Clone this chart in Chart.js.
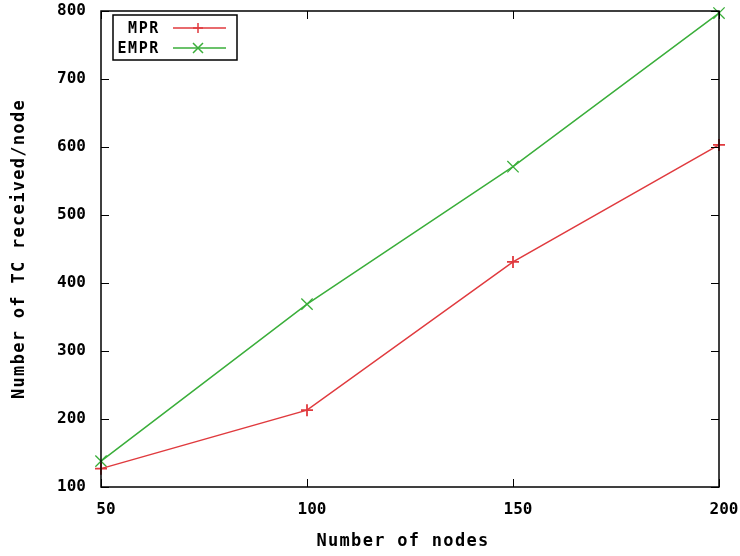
<!DOCTYPE html>
<html>
<head>
<meta charset="utf-8">
<script src="https://cdn.jsdelivr.net/npm/chart.js@4/dist/chart.umd.min.js"></script>
<style>
  html, body { margin: 0; padding: 0; background: #fff; }
  #wrap { width: 740px; height: 556px; }
</style>
</head>
<body>
<div id="wrap"><canvas id="tc_chart" width="740" height="556"></canvas></div>
<script>
// values
const nodes = [50, 100, 150, 200];
const mpr = [127, 213, 431, 603];
const empr = [138, 369, 571, 797];
const yTicks = [100, 200, 300, 400, 500, 600, 700, 800];
const xTitle = 'Number of nodes';
const yTitle = 'Number of TC received/node';

const FONT = '"DejaVu Sans Mono", monospace';

// gnuplot look: frame, inward ticks on all 4 sides, wide axis titles, boxed key top-left
var framePlugin = {
    id: 'frame',
    afterDatasetsDraw: function (chart) {
        var ctx = chart.ctx;
        var a = chart.chartArea;
        var xs = chart.scales.x, ys = chart.scales.y;
        ctx.save();
        ctx.strokeStyle = '#000';
        ctx.lineWidth = 1.5;
        ctx.strokeRect(a.left, a.top, a.right - a.left, a.bottom - a.top);
        ctx.lineWidth = 1;
        ctx.beginPath();
        nodes.forEach(function (v) {
            var px = Math.round(xs.getPixelForValue(v)) + 0.5;
            ctx.moveTo(px, a.bottom); ctx.lineTo(px, a.bottom - 8);
            ctx.moveTo(px, a.top); ctx.lineTo(px, a.top + 8);
        });
        yTicks.forEach(function (v) {
            var py = Math.round(ys.getPixelForValue(v)) + 0.5;
            ctx.moveTo(a.left, py); ctx.lineTo(a.left + 8, py);
            ctx.moveTo(a.right, py); ctx.lineTo(a.right - 8, py);
        });
        ctx.stroke();

        // axis titles
        ctx.fillStyle = '#000';
        ctx.font = 'bold 17px ' + FONT;
        ctx.letterSpacing = '1.3px';
        ctx.textAlign = 'center';
        ctx.textBaseline = 'middle';
        ctx.fillText(xTitle, 403, 542);
        ctx.save();
        ctx.translate(20, (a.top + a.bottom) / 2);
        ctx.rotate(-Math.PI / 2);
        ctx.fillText(yTitle, 0, 0);
        ctx.restore();

        // key box
        var bx = 113, by = a.top + 4, bw = 124, bh = 45;
        ctx.fillStyle = '#fff';
        ctx.fillRect(bx, by, bw, bh);
        ctx.strokeStyle = '#000';
        ctx.lineWidth = 1.5;
        ctx.strokeRect(bx, by, bw, bh);
        ctx.font = 'bold 15px ' + FONT;
        ctx.letterSpacing = '1.6px';
        ctx.textAlign = 'right';
        chart.data.datasets.forEach(function (ds, i) {
            var ly = by + 13 + i * 20;
            ctx.fillStyle = '#000';
            ctx.fillText(ds.label, bx + 47, ly + 1);
            ctx.strokeStyle = ds.borderColor;
            ctx.lineWidth = 1.5;
            ctx.beginPath();
            ctx.moveTo(bx + 60, ly); ctx.lineTo(bx + 113, ly);
            ctx.stroke();
            var mx = bx + 85, r = 5;
            ctx.beginPath();
            if (ds.pointStyle === 'cross') {
                ctx.moveTo(mx - r, ly); ctx.lineTo(mx + r, ly);
                ctx.moveTo(mx, ly - r); ctx.lineTo(mx, ly + r);
            } else {
                ctx.moveTo(mx - r, ly - r); ctx.lineTo(mx + r, ly + r);
                ctx.moveTo(mx - r, ly + r); ctx.lineTo(mx + r, ly - r);
            }
            ctx.stroke();
        });
        ctx.restore();
    }
};

function noPad(s) {
    s.paddingLeft = 0; s.paddingRight = 0; s.paddingTop = 0; s.paddingBottom = 0;
}

var config = {
    type: 'line',
    data: {
        datasets: [{
                label: 'MPR',
                data: nodes.map(function (n, i) { return {x: n, y: mpr[i]}; }),
                borderColor: '#e03a3e',
                backgroundColor: '#e03a3e',
                borderWidth: 1.5,
                pointStyle: 'cross',
                pointRadius: 6,
                pointBorderWidth: 1.8,
                tension: 0
            }, {
                label: 'EMPR',
                data: nodes.map(function (n, i) { return {x: n, y: empr[i]}; }),
                borderColor: '#3aae3a',
                backgroundColor: '#3aae3a',
                borderWidth: 1.5,
                pointStyle: 'crossRot',
                pointRadius: 8,
                pointBorderWidth: 1.3,
                tension: 0
            }]
    },
    options: {
        responsive: false,
        animation: false,
        clip: false,
        layout: {padding: {left: 0, top: 11, right: 21, bottom: 0}},
        plugins: {legend: {display: false}, tooltip: {enabled: false}},
        scales: {
            x: {
                type: 'linear',
                min: 50,
                max: 200,
                afterFit: function (s) { s.height = 69; noPad(s); },
                afterBuildTicks: function (s) { s.ticks = nodes.map(function (v) { return {value: v}; }); },
                grid: {display: false, drawTicks: false},
                border: {display: false},
                ticks: {color: '#000', padding: 13, labelOffset: 5, maxRotation: 0, font: {family: FONT, size: 16, weight: 'bold'}}
            },
            y: {
                min: 100,
                max: 800,
                afterFit: function (s) { s.width = 101; noPad(s); },
                afterBuildTicks: function (s) { s.ticks = yTicks.map(function (v) { return {value: v}; }); },
                grid: {display: false, drawTicks: false},
                border: {display: false},
                ticks: {color: '#000', padding: 15, font: {family: FONT, size: 16, weight: 'bold'}}
            }
        }
    },
    plugins: [framePlugin]
};

var tcChart = new Chart(document.getElementById('tc_chart'), config);
</script>
</body>
</html>
